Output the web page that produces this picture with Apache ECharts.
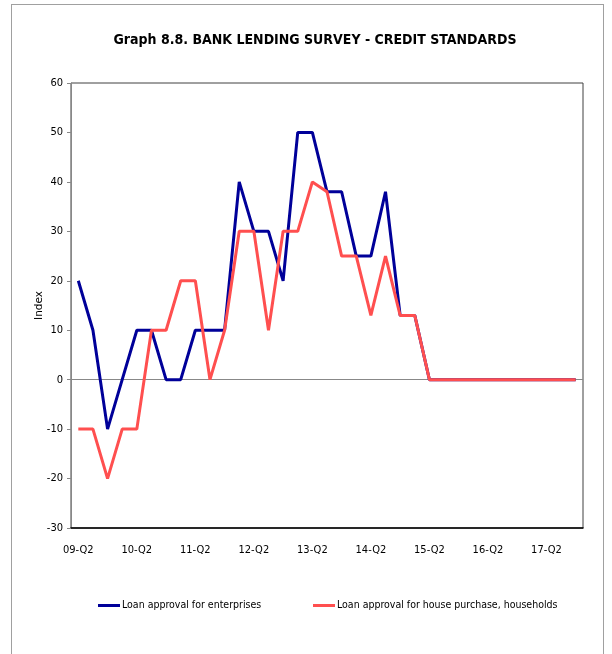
<!DOCTYPE html>
<html>
<head>
<meta charset="utf-8">
<script src="https://cdn.jsdelivr.net/npm/echarts@6/dist/echarts.min.js"></script>
<style>
  html, body { margin: 0; padding: 0; background: #fff; }
  .frame {
    position: absolute; left: 11px; top: 4px; width: 593px; height: 660px;
    border: 1px solid #a0a0a0; box-sizing: border-box;
  }
  #chart { position: absolute; left: 0; top: 0; width: 612px; height: 654px; }
</style>
</head>
<body>
<div class="frame"></div>
<div id="chart"></div>
<script>
// quarters 09-Q2 .. 17-Q4
var quarters = ['09-Q2','09-Q3','09-Q4','10-Q1','10-Q2','10-Q3','10-Q4','11-Q1','11-Q2','11-Q3','11-Q4',
  '12-Q1','12-Q2','12-Q3','12-Q4','13-Q1','13-Q2','13-Q3','13-Q4','14-Q1','14-Q2','14-Q3','14-Q4',
  '15-Q1','15-Q2','15-Q3','15-Q4','16-Q1','16-Q2','16-Q3','16-Q4','17-Q1','17-Q2','17-Q3','17-Q4'];
var enterprises = [20, 10, -10, 0, 10, 10, 0, 0, 10, 10, 10,
  40, 30, 30, 20, 50, 50, 38, 38, 25, 25, 38, 13,
  13, 0, 0, 0, 0, 0, 0, 0, 0, 0, 0, 0];
var households = [-10, -10, -20, -10, -10, 10, 10, 20, 20, 0, 10,
  30, 30, 10, 30, 30, 40, 38, 25, 25, 13, 25, 13,
  13, 0, 0, 0, 0, 0, 0, 0, 0, 0, 0, 0];

var narrow = '"Liberation Sans Narrow", "DejaVu Sans Condensed", sans-serif';
var chart = echarts.init(document.getElementById('chart'));
chart.setOption({
  animation: false,
  title: {
    text: 'Graph 8.8. BANK LENDING SURVEY - CREDIT STANDARDS',
    left: 310, top: 28, textAlign: 'center',
    textStyle: { fontFamily: narrow, fontSize: 14, fontWeight: 'bold', color: '#000' }
  },
  legend: [{
    data: ['Loan approval for enterprises'],
    left: 93, top: 595, icon: 'rect', itemWidth: 22, itemHeight: 3, itemGap: 2,
    textStyle: { fontFamily: narrow, fontSize: 10.5, color: '#000', padding: [0, 0, 0, -3] }
  }, {
    data: ['Loan approval for house purchase, households'],
    left: 308, top: 595, icon: 'rect', itemWidth: 22, itemHeight: 3,
    textStyle: { fontFamily: narrow, fontSize: 10.5, color: '#000', padding: [0, 0, 0, -3] }
  }],
  grid: {
    left: 71, top: 83, right: 29, bottom: 126,
    show: true, borderColor: '#404040', borderWidth: 1
  },
  xAxis: {
    type: 'category', data: quarters, boundaryGap: true,
    axisLine: { onZero: false, lineStyle: { color: '#000', width: 1.5 } },
    axisTick: { show: false },
    axisLabel: { interval: 3, margin: 17, fontFamily: narrow, fontSize: 11, color: '#000' }
  },
  yAxis: {
    type: 'value', min: -30, max: 60, interval: 10,
    name: 'Index', nameLocation: 'middle', nameGap: 26, nameMoveOverlap: false,
    nameTextStyle: { fontFamily: 'DejaVu Sans', fontSize: 10.5, color: '#000' },
    axisLine: { show: true, lineStyle: { color: '#888' } },
    axisTick: { show: true, length: 4, lineStyle: { color: '#888' } },
    splitLine: { show: false },
    axisLabel: { margin: 8, fontFamily: narrow, fontSize: 11, color: '#000' }
  },
  series: [{
    // zero reference line, drawn under the data lines
    name: 'zero', type: 'line', data: [], z: 1, silent: true,
    markLine: {
      z: 1, silent: true, symbol: 'none', label: { show: false },
      lineStyle: { color: '#888', width: 1, type: 'solid' },
      data: [{ yAxis: 0 }]
    }
  }, {
    name: 'Loan approval for enterprises', type: 'line', data: enterprises,
    showSymbol: false, symbol: 'none',
    lineStyle: { color: '#000099', width: 3 }, itemStyle: { color: '#000099' },
    z: 2
  }, {
    name: 'Loan approval for house purchase, households', type: 'line', data: households,
    showSymbol: false, symbol: 'none',
    lineStyle: { color: '#ff4f4f', width: 3 }, itemStyle: { color: '#ff4f4f' },
    z: 3
  }]
});
</script>
</body>
</html>
